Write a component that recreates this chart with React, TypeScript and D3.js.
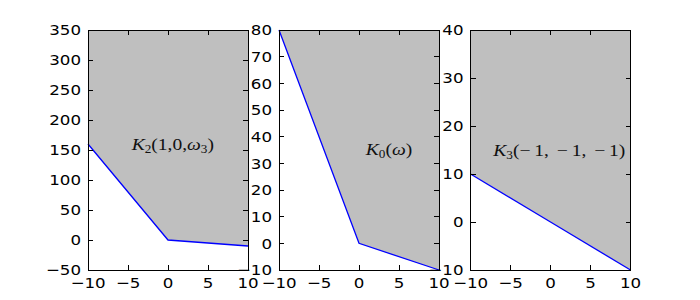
import * as d3 from "d3"

// x positions shared by every panel
const xs = [-10, 0, 10]

// lower boundary of each shaded region
const k2Values = [160, 0, -10]
const k0Values = [80, 0, -10]
const k3Values = [10, 0, -10]

const k2Ticks = [-50, 0, 50, 100, 150, 200, 250, 300, 350]
const k0Ticks = [-10, 0, 10, 20, 30, 40, 50, 60, 70, 80]
const k3Ticks = [-10, 0, 10, 20, 30, 40]
const xTicks = [-10, -5, 0, 5, 10]

type Part = { t: string; italic?: boolean; sub?: boolean }

const ts = "\u2009"

const panels = [
  {
    values: k2Values,
    ticks: k2Ticks,
    label: [
      { t: "K", italic: true },
      { t: "2", sub: true },
      { t: "(1,0," },
      { t: "ω", italic: true },
      { t: "3", sub: true },
      { t: ")" },
    ] as Part[],
    labelAt: [0.6, 150],
  },
  {
    values: k0Values,
    ticks: k0Ticks,
    label: [
      { t: "K", italic: true },
      { t: "0", sub: true },
      { t: "(" },
      { t: "ω", italic: true },
      { t: ")" },
    ] as Part[],
    labelAt: [3.75, 33],
  },
  {
    values: k3Values,
    ticks: k3Ticks,
    label: [
      { t: "K", italic: true },
      { t: "3", sub: true },
      { t: `(−${ts}1,${ts}${ts}−${ts}1,${ts}${ts}−${ts}1)` },
    ] as Part[],
    labelAt: [1.1, 13.7],
  },
]

const W = 700
const H = 300
const top = 30
const bottom = 270
const lefts = [88, 279, 470.5]
const pw = 160
const tickLen = 5
const sx = 1.15
const fmt = d3.format("d")

function Panel({ p, left }: { p: (typeof panels)[number]; left: number }) {
  const ticks = p.ticks
  const x = d3.scaleLinear().domain([-10, 10]).range([left, left + pw])
  const y = d3
    .scaleLinear()
    .domain([ticks[0], ticks[ticks.length - 1]])
    .range([bottom, top])
  const pts = xs.map((v, i) => [v, p.values[i]] as [number, number])
  const area = d3
    .area<[number, number]>()
    .x((d) => x(d[0]))
    .y0(top)
    .y1((d) => y(d[1]))
  const line = d3
    .line<[number, number]>()
    .x((d) => x(d[0]))
    .y((d) => y(d[1]))

  return (
    <g>
      <path d={area(pts) || ""} fill="#bfbfbf" />
      <path d={line(pts) || ""} fill="none" stroke="#0000ff" strokeWidth={1.3} />
      <g shapeRendering="crispEdges" stroke="#000">
        <rect x={left} y={top} width={pw} height={bottom - top} fill="none" />
        {xTicks.map((t) => (
          <g key={"x" + t}>
            <line x1={x(t)} x2={x(t)} y1={bottom} y2={bottom - tickLen} />
            <line x1={x(t)} x2={x(t)} y1={top} y2={top + tickLen} />
          </g>
        ))}
        {ticks.map((t) => (
          <g key={"y" + t}>
            <line x1={left} x2={left + tickLen} y1={y(t)} y2={y(t)} />
            <line x1={left + pw} x2={left + pw - tickLen} y1={y(t)} y2={y(t)} />
          </g>
        ))}
      </g>
      {xTicks.map((t) => (
        <text
          key={"xl" + t}
          transform={`translate(${x(t)},288) scale(${sx},1)`}
          textAnchor="middle"
          fontSize={14.5}
          fontFamily="DejaVu Sans"
        >
          {fmt(t)}
        </text>
      ))}
      {ticks.map((t) => (
        <text
          key={"yl" + t}
          transform={`translate(${left - 7},${y(t)}) scale(${sx},1)`}
          dy="0.36em"
          textAnchor="end"
          fontSize={14.5}
          fontFamily="DejaVu Sans"
        >
          {fmt(t)}
        </text>
      ))}
      <text
        transform={`translate(${x(p.labelAt[0])},${y(p.labelAt[1])}) scale(${sx},1)`}
        textAnchor="middle"
        fontSize={17}
        fontFamily="Liberation Serif"
        fill="#111"
      >
        {p.label.map((s, i) => (
          <tspan
            key={i}
            fontStyle={s.italic ? "italic" : "normal"}
            fontSize={s.sub ? 11.5 : 17}
            baselineShift={s.sub ? "-3" : undefined}
          >
            {s.t}
          </tspan>
        ))}
      </text>
    </g>
  )
}

export default function App() {
  return (
    <svg
      width={W}
      height={H}
      style={{ position: "absolute", left: 0, top: 0, background: "#fff" }}
    >
      {panels.map((p, i) => (
        <Panel key={i} p={p} left={lefts[i]} />
      ))}
    </svg>
  )
}
